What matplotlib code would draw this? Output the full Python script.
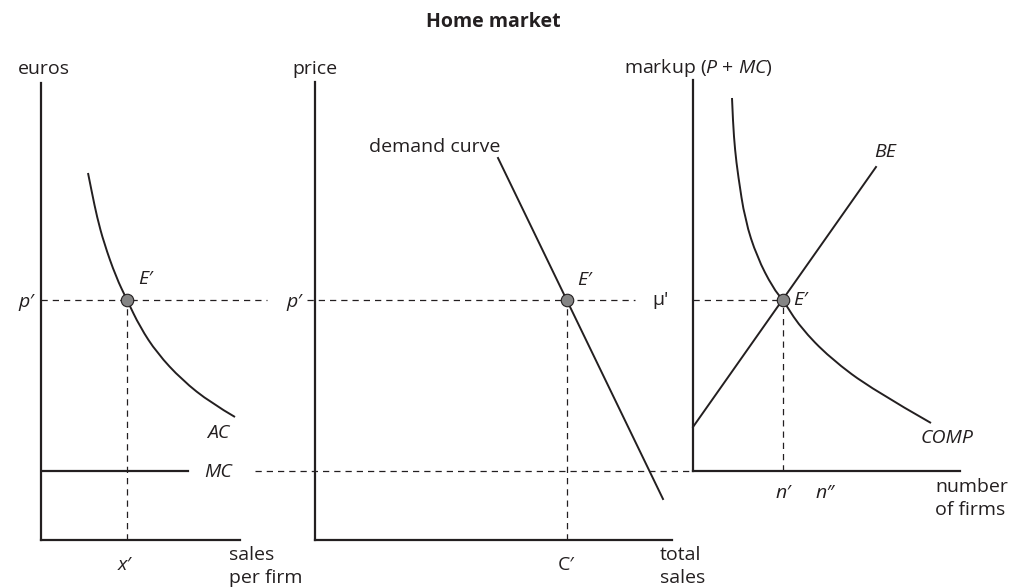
import matplotlib
matplotlib.use("Agg")
import matplotlib.pyplot as plt
from matplotlib.path import Path
from matplotlib.patches import PathPatch

plt.rcParams['font.family'] = ['Open Sans', 'DejaVu Sans']
plt.rcParams['mathtext.fontset'] = 'custom'
plt.rcParams['mathtext.rm'] = 'Open Sans'
plt.rcParams['mathtext.it'] = 'Open Sans:italic'

INK = '#231f20'
DOT = '#858585'

# panel 1: firm costs (arbitrary units)
ac_x = [47, 51, 56, 63, 75, 86, 99, 116, 141, 170, 194]
ac_y = [367, 347, 323, 297, 263, 240, 213, 187, 160, 137, 123]
mc_level = 69
mc_x = [0, 147]
p_level = 240
x_eq = 86

# panel 2: market demand
demand_x = [183, 348]
demand_y = [382, 41]
c_eq = 252

# panel 3: number of firms
comp_x = [39, 40, 42, 45, 52, 64, 80, 90, 107, 137, 180, 238]
comp_y = [373, 348, 321, 296, 251, 214, 183, 171, 144, 113, 81, 48]
be_x = [0, 183]
be_y = [44, 304]
n_eq = 90
mu_level = 171

W, H = 1009, 588
fig = plt.figure(figsize=(W / 100, H / 100), dpi=100)


def box(l, t, r, b):
    return [l / W, (H - b) / H, (r - l) / W, (b - t) / H]


def panel(rect, w, h):
    ax = fig.add_axes(rect)
    ax.set_xlim(0, w)
    ax.set_ylim(0, h)
    for s in ['top', 'right']:
        ax.spines[s].set_visible(False)
    for s in ['left', 'bottom']:
        ax.spines[s].set_linewidth(1.6)
        ax.spines[s].set_color(INK)
    ax.set_xticks([])
    ax.set_yticks([])
    ax.patch.set_alpha(0)
    return ax


def smooth(ax, xs, ys):
    # quadratic bezier pieces: read points act as control points
    pts = list(zip(xs, ys))
    verts = [pts[0]]
    codes = [Path.MOVETO]
    for i in range(1, len(pts) - 1):
        nxt = pts[i + 1] if i == len(pts) - 2 else (
            (pts[i][0] + pts[i + 1][0]) / 2, (pts[i][1] + pts[i + 1][1]) / 2)
        verts += [pts[i], nxt]
        codes += [Path.CURVE3, Path.CURVE3]
    ax.add_patch(PathPatch(Path(verts, codes), fill=False, ec=INK, lw=1.4,
                           clip_on=False))


def label(x, y, s, ha='left', size=14, **kw):
    fig.text(x / W, 1 - y / H, s, ha=ha, va='center', color=INK, fontsize=size, **kw)


dash = dict(color=INK, lw=0.9, ls=(0, (5, 4)), clip_on=False)
curve = dict(color=INK, lw=1.4, clip_on=False)
dot = dict(marker='o', ms=9, mfc=DOT, mec=INK, mew=0.8, ls='none', zorder=5, clip_on=False)

ax1 = panel(box(41, 83, 240, 540), 199, 457)
ax1.plot([0, 226], [p_level, p_level], **dash)
ax1.plot([x_eq, x_eq], [0, p_level], **dash)
smooth(ax1, ac_x, ac_y)
ax1.plot(mc_x, [mc_level, mc_level], color=INK, lw=1.6)
ax1.plot([x_eq], [p_level], **dot)

ax2 = panel(box(315, 82, 672, 540), 357, 458)
ax2.plot([-8, 320], [p_level, p_level], **dash)
ax2.plot([-60, 378], [mc_level, mc_level], **dash)
ax2.plot([c_eq, c_eq], [0, p_level], **dash)
ax2.plot(demand_x, demand_y, **curve)
ax2.plot([c_eq], [p_level], **dot)

ax3 = panel(box(693, 80, 960, 471), 267, 391)
ax3.plot([0, n_eq], [mu_level, mu_level], **dash)
ax3.plot([n_eq, n_eq], [0, mu_level], **dash)
smooth(ax3, comp_x, comp_y)
ax3.plot(be_x, be_y, **curve)
ax3.plot([n_eq], [mu_level], **dot)

fig.text(493 / W, 1 - 22 / H, 'Home market', ha='center', va='center',
         color=INK, fontsize=14, fontweight='bold')

label(18, 69, 'euros')
label(292, 69, 'price')
label(624, 68, 'markup ($P$ + $MC$)')
label(369, 147, 'demand curve')

label(138, 279, "E\u2032", style='italic')
label(577, 280, "E\u2032", style='italic')
label(793, 300, "E\u2032", style='italic')

label(34, 302, "p\u2032", ha='right', style='italic')
label(302, 302, "p\u2032", ha='right', style='italic')
label(652, 300, "\u03bc'")

label(207, 433, 'AC', style='italic')
label(204, 472, 'MC', style='italic')
label(874, 152, 'BE', style='italic')
label(921, 438, 'COMP', style='italic')

label(125, 565, "x\u2032", ha='center', style='italic')
label(566, 565, "C\u2032", ha='center')
label(783, 493, "n\u2032", ha='center', style='italic')
label(825, 493, "n\u2033", ha='center', style='italic')

label(229, 555, 'sales')
label(229, 578, 'per firm')
label(660, 555, 'total')
label(660, 578, 'sales')
label(935, 487, 'number')
label(935, 510, 'of firms')

fig.savefig('out.png', dpi=100)
